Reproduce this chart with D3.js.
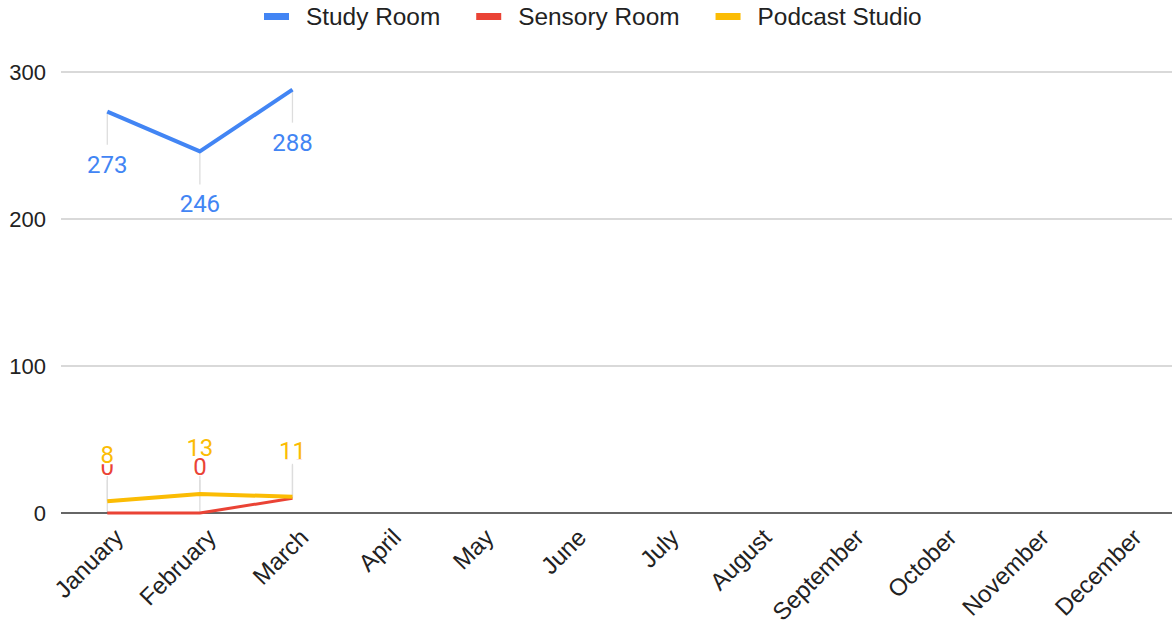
<!DOCTYPE html>
<html>
<head>
<meta charset="utf-8">
<script src="https://cdn.jsdelivr.net/npm/d3@7"></script>
<style>
  html, body { margin: 0; padding: 0; background: #fff; }
  svg { display: block; }
</style>
</head>
<body>
<svg id="chart" width="1172" height="625"></svg>
<script>
// Monthly bookings per room
const months = ["January", "February", "March", "April", "May", "June",
  "July", "August", "September", "October", "November", "December"];
const studyRoom = [273, 246, 288];
const sensoryRoom = [0, 0, 10];
const podcastStudio = [8, 13, 11];
const seriesNames = ["Study Room", "Sensory Room", "Podcast Studio"];
const seriesColors = ["#4285F4", "#EA4335", "#FBBC04"];
const yTicks = [0, 100, 200, 300];

const series = [
  { name: seriesNames[0], color: seriesColors[0], values: studyRoom, below: true, width: 4 },
  { name: seriesNames[1], color: seriesColors[1], values: sensoryRoom, below: false, width: 3 },
  { name: seriesNames[2], color: seriesColors[2], values: podcastStudio, below: false, width: 4 }
];

const plot = { left: 61, right: 1172, top: 72, bottom: 513 };
const svg = d3.select("#chart");

const x = d3.scalePoint().domain(months).range([plot.left, plot.right]).padding(0.5);
const y = d3.scaleLinear().domain([0, 300]).range([plot.bottom, plot.top]);

// Horizontal gridlines
svg.append("g")
  .selectAll("line")
  .data(yTicks.filter(d => d !== 0))
  .join("line")
  .attr("x1", plot.left).attr("x2", plot.right)
  .attr("y1", d => y(d)).attr("y2", d => y(d))
  .attr("stroke", "#cccccc").attr("stroke-width", 1.3);

// Y axis labels
const yAxis = svg.append("g")
  .attr("transform", `translate(${plot.left - 15},0)`)
  .call(d3.axisLeft(y).tickValues(yTicks).tickSize(0).tickPadding(0).tickFormat(d3.format("d")));
yAxis.select(".domain").remove();
yAxis.selectAll("text")
  .attr("font-family", "'Liberation Sans', Arial, sans-serif")
  .attr("font-size", 22)
  .attr("fill", "#222")
  .attr("dy", "0.35em");

// X axis labels, rotated
const xAxis = svg.append("g")
  .attr("transform", `translate(0,${plot.bottom})`)
  .call(d3.axisBottom(x).tickSize(0).tickPadding(0));
xAxis.select(".domain").remove();
xAxis.selectAll("text")
  .attr("font-family", "'Liberation Sans', Arial, sans-serif")
  .attr("font-size", 24)
  .attr("fill", "#222")
  .attr("text-anchor", "end")
  .attr("dy", 0)
  .attr("y", 0)
  .attr("transform", "translate(17,26) rotate(-45)");

// Leader lines for data labels
const leaderLen = 33;
const leaders = svg.append("g");
series.forEach(s => {
  leaders.selectAll(null)
    .data(s.values)
    .join("line")
    .attr("x1", (d, i) => x(months[i])).attr("x2", (d, i) => x(months[i]))
    .attr("y1", d => y(d))
    .attr("y2", d => s.below ? y(d) + leaderLen : y(d) - leaderLen)
    .attr("stroke", "#dddddd").attr("stroke-width", 1.3);
});

// Baseline at zero
svg.append("line")
  .attr("x1", plot.left).attr("x2", plot.right)
  .attr("y1", y(0)).attr("y2", y(0))
  .attr("stroke", "#333").attr("stroke-width", 1.5);

// Series lines
const line = d3.line().x((d, i) => x(months[i])).y(d => y(d));
series.forEach(s => {
  svg.append("path")
    .datum(s.values)
    .attr("d", line)
    .attr("fill", "none")
    .attr("stroke", s.color)
    .attr("stroke-width", s.width)
    .attr("stroke-linejoin", "round");
});

// Data labels with a white backing box
const labelSize = 24;
series.forEach(s => {
  s.values.forEach((v, i) => {
    const cx = x(months[i]);
    const base = s.below ? y(v) + 61 : y(v) - 38;
    const g = svg.append("g");
    const t = g.append("text")
      .attr("x", cx).attr("y", base)
      .attr("text-anchor", "middle")
      .attr("font-family", "Roboto, 'Noto Sans', sans-serif")
      .attr("font-size", labelSize)
      .attr("fill", s.color)
      .text(v);
    const bb = t.node().getBBox();
    g.insert("rect", "text")
      .attr("x", bb.x).attr("width", bb.width)
      .attr("y", base - 19).attr("height", 20)
      .attr("fill", "#fff");
  });
});

// Legend
const legend = svg.append("g")
  .attr("font-family", "'Liberation Sans', Arial, sans-serif")
  .attr("font-size", 24.4);
let lx = 264;
series.forEach(s => {
  legend.append("rect")
    .attr("x", lx).attr("y", 13).attr("width", 25).attr("height", 7)
    .attr("fill", s.color);
  const t = legend.append("text")
    .attr("x", lx + 42).attr("y", 25)
    .attr("fill", "#222")
    .text(s.name);
  lx += 42 + t.node().getComputedTextLength() + 36;
});
</script>
</body>
</html>
